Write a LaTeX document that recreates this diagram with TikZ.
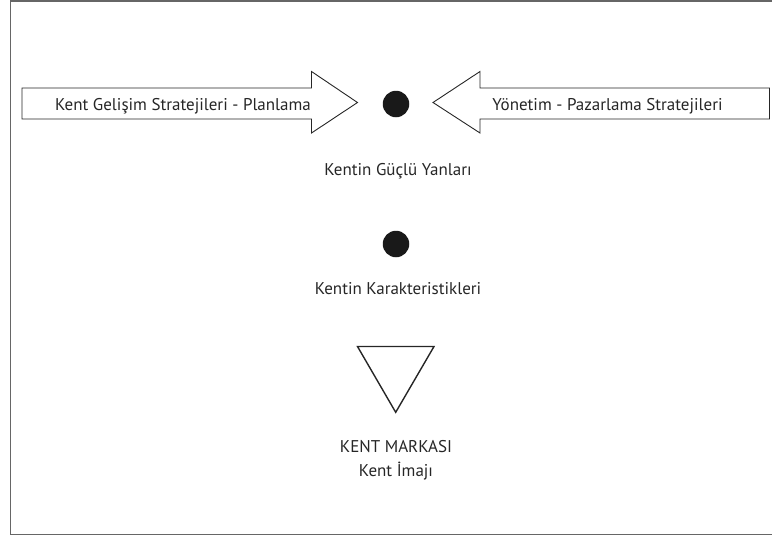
\documentclass[tikz,border=0pt]{standalone}
\usepackage{fontspec}
\setmainfont{PT Sans}
\begin{document}
\begin{tikzpicture}[x=1pt,y=-1pt,
  frame/.style={draw=black!60, line width=1.4pt},
  arrowshape/.style={draw=black!85, line width=0.9pt, line join=miter},
  dot/.style={circle, fill=black!90, inner sep=0pt, minimum size=26.5pt},
  lbl/.style={inner sep=0pt, anchor=base, font=\fontsize{17}{21}\selectfont, text=black!85},
  tri/.style={draw=black!85, line width=1.4pt, line join=miter}]
\useasboundingbox (0,0) rectangle (772,536);
\draw[frame] (776,1) -- (10.5,1) -- (10.5,534.5) -- (776,534.5);
% left arrow
\draw[arrowshape] (22,88) -- (311.5,88) -- (311.5,71.5) -- (357.5,102.5) -- (311.5,133) -- (311.5,119) -- (22,119) -- cycle;
\node[lbl] (ltxt) at (183,110.5) {Kent Gelişim Stratejileri - Planlama};
% right arrow
\draw[arrowshape] (769.5,88) -- (480,88) -- (480,71.5) -- (433,102.5) -- (480,133) -- (480,119) -- (769.5,119) -- cycle;
\node[lbl] (rtxt) at (607.5,110.5) {Yönetim - Pazarlama Stratejileri};
% dots
\node[dot] (d1) at (396,104) {};
\node[lbl] (t1) at (398,175) {Kentin Güçlü Yanları};
\node[dot] (d2) at (396,244) {};
\node[lbl] (t2) at (398,294) {Kentin Karakteristikleri};
% triangle
\draw[tri] (357.5,346.5) -- (434,346.5) -- (395.7,412.3) -- cycle;
\node[lbl] (t3) at (396,452) {KENT MARKASI};
\node[lbl] (t4) at (396,476) {Kent İmajı};
\end{tikzpicture}
\end{document}
